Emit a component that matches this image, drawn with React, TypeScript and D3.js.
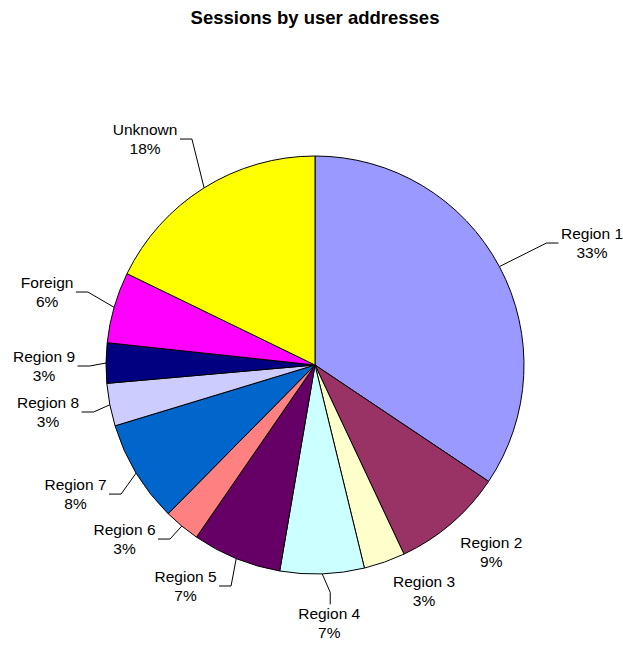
import React from "react";
import * as d3 from "d3";

const title = "Sessions by user addresses";
const categories = ["Region 1", "Region 2", "Region 3", "Region 4", "Region 5", "Region 6", "Region 7", "Region 8", "Region 9", "Foreign", "Unknown"];
const values = [34.4, 8.6, 3.2, 6.5, 6.9, 2.8, 7.9, 3.3, 3.1, 5.5, 17.8];
const percentLabels = ["33%", "9%", "3%", "7%", "7%", "3%", "8%", "3%", "3%", "6%", "18%"];
const colors = ["#9999FF", "#993366", "#FFFFCC", "#CCFFFF", "#660066", "#FF8080", "#0066CC", "#CCCCFF", "#000080", "#FF00FF", "#FFFF00"];

// label layout: offset of label centre (first-line baseline) from the slice's outer mid point, and leader style
const labelOffsets: [number, number][] = [
  [92.6, -27.6], [40, 24.5], [39.5, 25], [7, 45], [-50.7, 23.4], [-57.3, 9],
  [-60.6, 17], [-61.8, 3.2], [-62, -1], [-67, -19.3], [-59, -52.8],
];
const leaderKinds = ["right", "none", "none", "down", "left", "left", "left", "left", "left", "left", "left"];

const W = 623, H = 646;
const CX = 315, CY = 365, R = 209;
const FONT = "'Liberation Sans', Arial, sans-serif";
const FS = 15.5;
const LINE_GAP = 19;

let ctx: CanvasRenderingContext2D | null = null;
function textWidth(s: string) {
  if (!ctx) {
    const c = document.createElement("canvas");
    ctx = c.getContext("2d");
  }
  if (!ctx) return s.length * 8;
  ctx.font = `${FS}px ${FONT}`;
  return ctx.measureText(s).width;
}

export default function App() {
  const pie = d3.pie<number>().sort(null).value((d) => d).startAngle(0).endAngle(2 * Math.PI);
  const arcs = pie(values);
  const arc = d3.arc<d3.PieArcDatum<number>>().innerRadius(0).outerRadius(R);

  return (
    <svg width={W} height={H} style={{ position: "absolute", left: 0, top: 0, background: "#fff" }}>
      <text x={CX} y={24} textAnchor="middle" fontFamily={FONT} fontWeight="bold" fontSize={18.5} fill="#000">
        {title}
      </text>
      <g transform={`translate(${CX},${CY})`}>
        {arcs.map((a, i) => (
          <path key={i} d={arc(a) || ""} fill={colors[i]} stroke="#000" strokeWidth={1} strokeLinejoin="round" />
        ))}
      </g>
      {arcs.map((a, i) => {
        const mid = (a.startAngle + a.endAngle) / 2;
        const ax = CX + R * Math.sin(mid);
        const ay = CY - R * Math.cos(mid);
        const lx = ax + labelOffsets[i][0];
        const ly = ay + labelOffsets[i][1];
        const w = Math.max(textWidth(categories[i]), textWidth(percentLabels[i]));
        const kind = leaderKinds[i];
        let pts: [number, number][] | null = null;
        const hy = ly + 4;
        if (kind === "left") {
          const x0 = lx + w / 2 + 2.5;
          pts = [[x0, hy], [x0 + 12, hy], [ax, ay]];
        } else if (kind === "right") {
          const x0 = lx - w / 2 - 2.5;
          pts = [[x0, hy], [x0 - 12, hy], [ax, ay]];
        } else if (kind === "down") {
          const top = ly - 11.5 - 3;
          pts = [[lx + 1, top], [lx + 1, top - 12], [ax, ay]];
        }
        return (
          <g key={i}>
            {pts && <path d={d3.line()(pts) || ""} fill="none" stroke="#000" strokeWidth={1} />}
            <text x={lx} y={ly} textAnchor="middle" fontFamily={FONT} fontSize={FS} fill="#000">
              {categories[i]}
            </text>
            <text x={lx} y={ly + LINE_GAP} textAnchor="middle" fontFamily={FONT} fontSize={FS} fill="#000">
              {percentLabels[i]}
            </text>
          </g>
        );
      })}
    </svg>
  );
}
